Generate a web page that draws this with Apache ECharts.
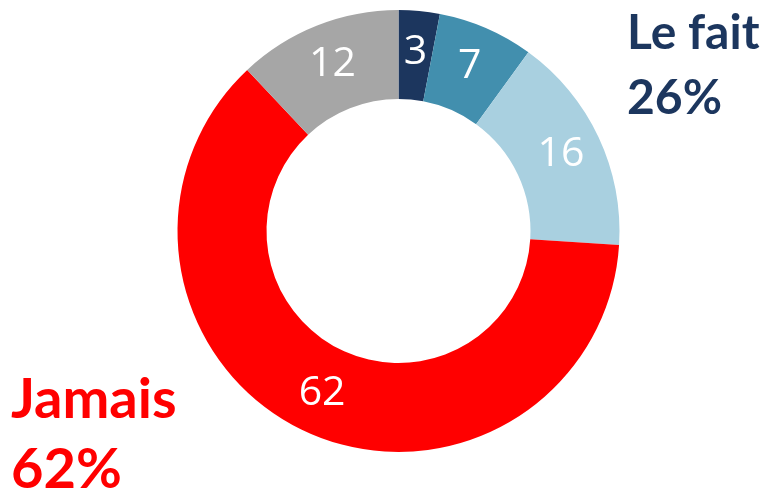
<!DOCTYPE html>
<html>
<head>
<meta charset="utf-8">
<script src="https://cdn.jsdelivr.net/npm/echarts@6/dist/echarts.min.js"></script>
<style>
  html, body { margin: 0; padding: 0; background: #fff; }
  #main { width: 766px; height: 500px; }
</style>
</head>
<body>
<div id="main"></div>
<script>
// données
const categories = ['Souvent', 'Parfois', 'Rarement', 'Jamais', 'NSP'];
const values = [3, 7, 16, 62, 12];
const palette = ['#1c365e', '#428fae', '#a9d0e0', '#ff0000', '#a6a6a6'];
const groupLabels = ['Le fait\n26%', 'Jamais\n62%'];

const chart = echarts.init(document.getElementById('main'));
chart.setOption({
  animation: false,
  title: [
    {
      text: groupLabels[0],
      left: 622, top: -4,
      textStyle: { color: '#1c365e', fontFamily: 'Lato', fontWeight: 'bold', fontSize: 48, lineHeight: 65 }
    },
    {
      text: groupLabels[1],
      left: 6, top: 360,
      textStyle: { color: '#ff0000', fontFamily: 'Lato', fontWeight: 'bold', fontSize: 56, lineHeight: 70 }
    }
  ],
  series: [{
    type: 'pie',
    center: [398.5, 231],
    radius: [132, 221],
    startAngle: 90,
    clockwise: true,
    label: {
      show: true,
      position: 'inside',
      formatter: '{c}',
      color: '#fff',
      fontFamily: 'Open Sans',
      fontSize: 41
    },
    labelLine: { show: false },
    emphasis: { disabled: true },
    data: categories.map((name, i) => ({
      name: name,
      value: values[i],
      itemStyle: { color: palette[i] }
    }))
  }]
});
</script>
</body>
</html>
